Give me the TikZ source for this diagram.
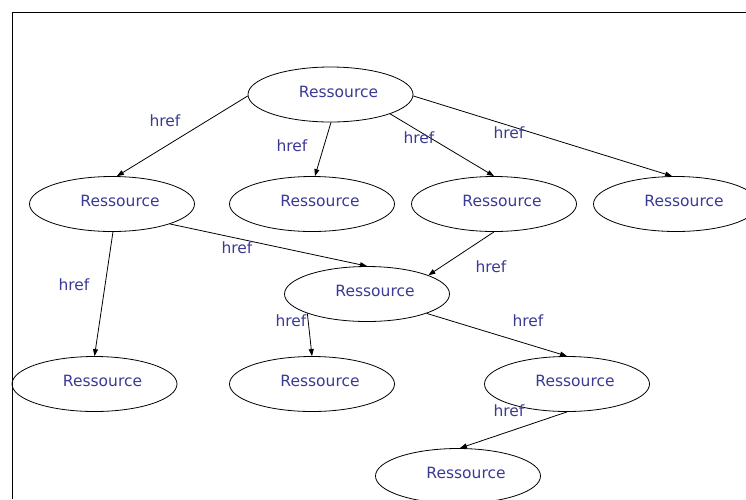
\documentclass[tikz,border=0pt]{standalone}
\usepackage{fontspec}
\setmainfont{DejaVu Sans}
\usetikzlibrary{shapes.geometric,arrows.meta}
\definecolor{restext}{RGB}{58,58,150}
\tikzset{
  res/.style={ellipse, draw=black, line width=0.8pt, minimum width=165pt,
    minimum height=55pt, inner sep=0pt, text=restext, text depth=6pt,
    font=\fontsize{15.5}{18}\selectfont},
  link/.style={draw=black, line width=0.8pt,
    -{Triangle[length=7pt,width=5pt]}},
  lbl/.style={text=restext, inner sep=0pt, font=\fontsize{15.5}{18}\selectfont}
}
\newcommand{\restxt}{\hspace*{16pt}Ressource}
\begin{document}
\begin{tikzpicture}[x=1pt,y=-1pt]
  \useasboundingbox (0,0) rectangle (746,499);
  % frame
  \draw[line width=0.8pt] (12.5,499) -- (12.5,12.5) -- (746,12.5);

  % resources
  \node[res] (top) at (330.5,94.5) {\restxt};
  \node[res] (r1) at (112,204) {\restxt};
  \node[res] (r2) at (312,204) {\restxt};
  \node[res] (r3) at (494,204) {\restxt};
  \node[res] (r4) at (676,204) {\restxt};
  \node[res] (mid) at (367,294) {\restxt};
  \node[res] (b1) at (94.5,384) {\restxt};
  \node[res] (b2) at (312,384) {\restxt};
  \node[res] (b3) at (567,384) {\restxt};
  \node[res] (last) at (458,476) {\restxt};

  % links
  \draw[link] (top.181) -- (r1.80);
  \draw[link] (top.271) -- (r2.84);
  \draw[link] (top.342) -- (r3.90);
  \draw[link] (top.359) -- (r4.98);
  \draw[link] (r1.272) -- (b1.90);
  \draw[link] (r1.341) -- (mid.90);
  \draw[link] (r3.270) -- (mid.17);
  \draw[link] (mid.198) -- (b2.90);
  \draw[link] (mid.342) -- (b3.90);
  \draw[link] (b3.270) -- (last.86);

  % labels
  \node[lbl] (h1) at (165,121) {href};
  \node[lbl] (h2) at (292,146) {href};
  \node[lbl] (h3) at (419,138) {href};
  \node[lbl] (h4) at (509,133) {href};
  \node[lbl] (h5) at (74,285) {href};
  \node[lbl] (h6) at (237,248) {href};
  \node[lbl] (h7) at (491,267) {href};
  \node[lbl] (h8) at (291,321) {href};
  \node[lbl] (h9) at (528,321) {href};
  \node[lbl] (h10) at (509,411) {href};
\end{tikzpicture}
\end{document}
